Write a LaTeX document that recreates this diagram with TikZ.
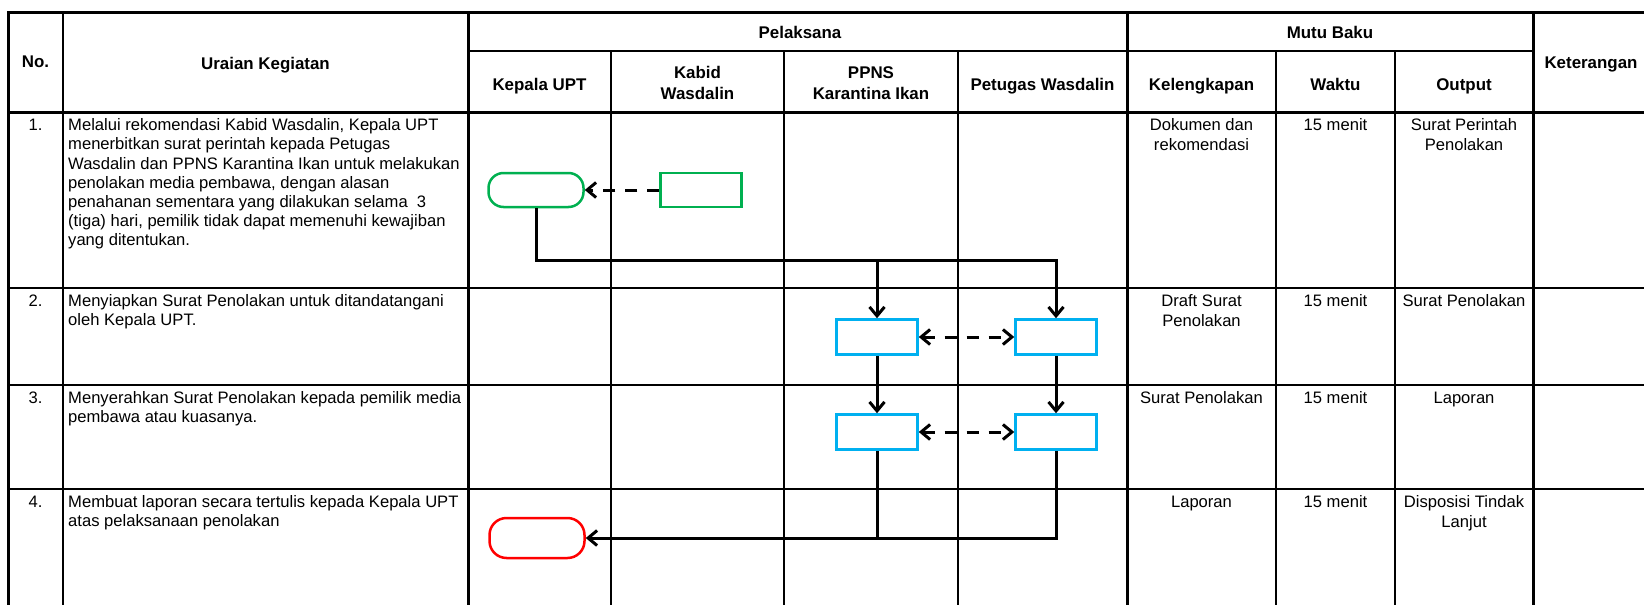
\documentclass[tikz,border=0pt]{standalone}
\usepackage{fontspec}
\setmainfont{Liberation Sans}
\usepackage{tikz}
\usetikzlibrary{arrows.meta}

\definecolor{termgreen}{RGB}{0,176,80}
\definecolor{boxblue}{RGB}{0,176,240}
\definecolor{termred}{RGB}{255,0,0}

\tikzset{
  hdr/.style={font=\fontsize{16.9}{21}\selectfont\bfseries, align=center, inner sep=0pt, anchor=north},
  cell/.style={font=\fontsize{16.6}{19.5}\selectfont, align=center, inner sep=0pt, anchor=north},
  desc/.style={font=\fontsize{16.6}{19.2}\selectfont, align=left, inner sep=0pt, anchor=north west},
  tableframe/.style={line width=3pt},
  gridline/.style={line width=2pt},
  terminal/.style={draw, rounded corners=15pt, line width=2.5pt, minimum width=95pt, minimum height=34pt},
  process/.style={draw=boxblue, line width=2.5pt, minimum width=81pt, minimum height=35pt},
  >={Straight Barb[length=9pt,width=15pt]},
  flow/.style={line width=3pt, ->},
  link/.style={line width=3pt, dash pattern=on 12pt off 10pt}
}

\begin{document}
\begin{tikzpicture}[x=1pt,y=-1pt]
\useasboundingbox (0,0) rectangle (1644,605);

\draw[gridline] (468,51) -- (1533,51);
\foreach \y in {288,385,489} \draw[gridline] (8,\y) -- (1644,\y);
\foreach \x in {611,784,958,1276,1395} \draw[gridline] (\x,51) -- (\x,605);
\draw[gridline] (63,12) -- (63,605);
\draw[tableframe] (8,605) -- (8,12) -- (1644,12);
\draw[tableframe] (8,112) -- (1644,112);
\foreach \x in {468,1127,1533} \draw[tableframe] (\x,12) -- (\x,605);

\node[hdr] (HNo) at (35.5,56) {No.};
\node[hdr] (HUraian) at (265.5,57) {Uraian Kegiatan};
\node[hdr] (HPelaksana) at (800,26) {Pelaksana};
\node[hdr] (HKepala) at (539.5,78) {Kepala UPT};
\node[hdr] (HKabid) at (697.5,66) {Kabid\\Wasdalin};
\node[hdr] (HPPNS) at (871,66) {PPNS\\Karantina Ikan};
\node[hdr] (HPetugas) at (1042.5,78) {Petugas Wasdalin};
\node[hdr] (HMutu) at (1330,26) {Mutu Baku};
\node[hdr] (HLengkap) at (1201.5,78) {Kelengkapan};
\node[hdr] (HWaktu) at (1335.5,78) {Waktu};
\node[hdr] (HOutput) at (1464,78) {Output};
\node[hdr] (HKet) at (1591,57) {Keterangan};

\node[cell] (No1) at (35.5,118.5) {1.};
\node[desc] (Uraian1) at (68,118.5) {Melalui rekomendasi Kabid Wasdalin, Kepala UPT\\menerbitkan surat perintah kepada Petugas\\Wasdalin dan PPNS Karantina Ikan untuk melakukan\\penolakan media pembawa, dengan alasan\\penahanan sementara yang dilakukan selama \ 3\\(tiga) hari, pemilik tidak dapat memenuhi kewajiban\\yang ditentukan.};
\node[cell] (Lengkap1) at (1201.5,118.5) {Dokumen dan\\rekomendasi};
\node[cell] (Waktu1) at (1335.5,118.5) {15 menit};
\node[cell] (Output1) at (1464,118.5) {Surat Perintah\\Penolakan};

\node[cell] (No2) at (35.5,294.5) {2.};
\node[desc] (Uraian2) at (68,294.5) {Menyiapkan Surat Penolakan untuk ditandatangani\\oleh Kepala UPT.};
\node[cell] (Lengkap2) at (1201.5,294.5) {Draft Surat\\Penolakan};
\node[cell] (Waktu2) at (1335.5,294.5) {15 menit};
\node[cell] (Output2) at (1464,294.5) {Surat Penolakan};

\node[cell] (No3) at (35.5,391.5) {3.};
\node[desc] (Uraian3) at (68,391.5) {Menyerahkan Surat Penolakan kepada pemilik media\\pembawa atau kuasanya.};
\node[cell] (Lengkap3) at (1201.5,391.5) {Surat Penolakan};
\node[cell] (Waktu3) at (1335.5,391.5) {15 menit};
\node[cell] (Output3) at (1464,391.5) {Laporan};

\node[cell] (No4) at (35.5,495.5) {4.};
\node[desc] (Uraian4) at (68,495.5) {Membuat laporan secara tertulis kepada Kepala UPT\\atas pelaksanaan penolakan};
\node[cell] (Lengkap4) at (1201.5,495.5) {Laporan};
\node[cell] (Waktu4) at (1335.5,495.5) {15 menit};
\node[cell] (Output4) at (1464,495.5) {Disposisi Tindak\\Lanjut};

\node[terminal, draw=termgreen] (KepalaStart) at (536,190) {};
\node[process, draw=termgreen, minimum height=34pt] (KabidRec) at (701,190) {};
\node[process] (PPNS2) at (877,337) {};
\node[process] (Petugas2) at (1056,337) {};
\node[process] (PPNS3) at (877,432) {};
\node[process] (Petugas3) at (1056,432) {};
\node[terminal, draw=termred, minimum height=40pt, rounded corners=17pt] (KepalaEnd) at (537,538) {};

\coordinate (Split) at (1056,260);

\draw[link, ->] (KabidRec.west) -- (KepalaStart.east);
\draw[flow] (KepalaStart.south) |- (Split) -- (Petugas2.north);
\draw[flow] (PPNS2.north |- Split) -- (PPNS2.north);
\draw[link, <->] (PPNS2.east) -- (Petugas2.west);
\draw[flow] (PPNS2) -- (PPNS3);
\draw[flow] (Petugas2) -- (Petugas3);
\draw[link, <->] (PPNS3.east) -- (Petugas3.west);
\draw[flow] (Petugas3.south) |- (KepalaEnd.east);
\draw[line width=3pt] (PPNS3.south) -- (PPNS3.south |- KepalaEnd.east);

\end{tikzpicture}
\end{document}
